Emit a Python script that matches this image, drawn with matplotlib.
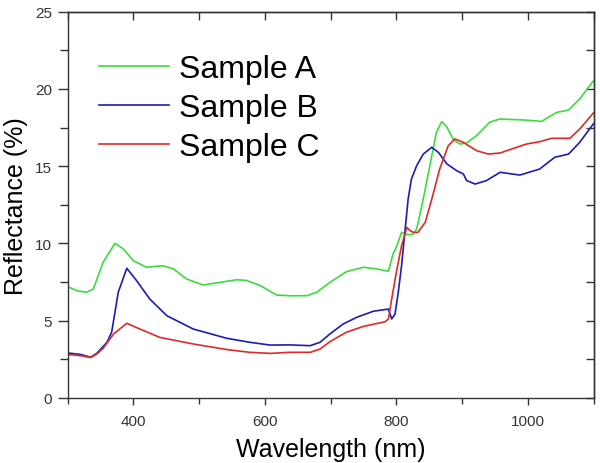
import matplotlib
matplotlib.use('Agg')
import matplotlib.pyplot as plt
from matplotlib.ticker import MultipleLocator, FixedLocator, NullFormatter

plt.rcParams['font.family'] = ['Liberation Sans', 'DejaVu Sans']

# Sample A (green)
wl_a = [300, 314, 329, 339, 354, 372, 385, 400, 420, 445, 461, 481, 506, 532, 557, 572,
        593, 618, 640, 664, 679, 699, 724, 750, 770, 788, 795, 800, 808, 818, 826, 831,
        841, 851, 861, 869, 876, 887, 897, 907, 922, 942, 957, 993, 1021, 1044, 1062, 1079, 1100]
refl_a = [7.2, 6.93, 6.83, 7.04, 8.77, 10.0, 9.63, 8.87, 8.45, 8.55, 8.34, 7.69, 7.3, 7.47, 7.64, 7.6,
          7.26, 6.65, 6.6, 6.61, 6.83, 7.47, 8.16, 8.45, 8.34, 8.19, 9.31, 9.74, 10.71, 10.55, 10.6, 10.93,
          12.87, 15.03, 17.19, 17.88, 17.6, 16.7, 16.43, 16.5, 16.97, 17.84, 18.05, 17.99, 17.9, 18.48, 18.63, 19.35, 20.53]

# Sample B (blue)
wl_b = [300, 320, 335, 345, 360, 367, 377, 390, 405, 425, 451, 491, 542, 577, 608, 638,
        669, 684, 699, 719, 740, 765, 788, 793, 798, 803, 808, 813, 818, 823, 831, 841,
        854, 864, 877, 892, 902, 907, 920, 937, 958, 988, 1018, 1041, 1062, 1079, 1100]
refl_b = [2.9, 2.8, 2.62, 2.9, 3.6, 4.24, 6.83, 8.38, 7.58, 6.39, 5.31, 4.45, 3.85, 3.59, 3.41, 3.42,
          3.37, 3.59, 4.13, 4.77, 5.21, 5.6, 5.74, 5.1, 5.42, 6.83, 8.55, 10.71, 12.87, 14.16, 15.03, 15.78,
          16.22, 15.89, 15.14, 14.7, 14.49, 14.06, 13.84, 14.06, 14.6, 14.42, 14.81, 15.57, 15.78, 16.54, 17.75]

# Sample C (red)
wl_c = [300, 320, 335, 345, 354, 370, 390, 410, 440, 491, 542, 577, 608, 638, 669, 684,
        699, 724, 750, 783, 788, 793, 800, 808, 816, 821, 826, 833, 844, 854, 866, 879,
        889, 902, 922, 940, 958, 968, 998, 1018, 1036, 1064, 1079, 1100]
refl_c = [2.8, 2.72, 2.6, 2.85, 3.2, 4.13, 4.82, 4.45, 3.91, 3.48, 3.12, 2.94, 2.87, 2.94, 2.94, 3.15,
          3.63, 4.24, 4.62, 4.92, 5.1, 6.39, 8.12, 9.84, 11.03, 10.82, 10.71, 10.71, 11.36, 12.87, 14.81, 16.32,
          16.76, 16.54, 16.0, 15.78, 15.85, 16.0, 16.43, 16.58, 16.8, 16.8, 17.4, 18.45]

labels = ['Sample A', 'Sample B', 'Sample C']
colors = ['#3ddc3d', '#1c1cb4', '#dc2a2a']

fig = plt.figure(figsize=(6, 4.64), dpi=100)
ax = fig.add_axes([0.1127, 0.1407, 0.8765, 0.8319])

for wl, r, lab, c in zip([wl_a, wl_b, wl_c], [refl_a, refl_b, refl_c], labels, colors):
    ax.plot(wl, r, color=c, lw=1.2, label=lab)

ax.set_xlim(300, 1100)
ax.set_ylim(0, 25)
ax.xaxis.set_major_locator(FixedLocator([400, 600, 800, 1000]))
ax.xaxis.set_minor_locator(FixedLocator([300, 500, 700, 900, 1100]))
ax.yaxis.set_major_locator(MultipleLocator(5))
ax.yaxis.set_minor_locator(MultipleLocator(2.5))
ax.tick_params(which='major', direction='out', length=5, width=1, colors='#333333',
               labelsize=11, pad=7)
ax.tick_params(axis='y', which='major', length=7, pad=4)
ax.tick_params(axis='y', which='minor', direction='out', length=6, width=1, color='#333333')
ax.tick_params(axis='x', which='minor', direction='out', length=4, width=1, color='#333333')

# inward ticks on top and right
top = ax.secondary_xaxis('top')
top.xaxis.set_major_locator(MultipleLocator(100))
top.xaxis.set_major_formatter(NullFormatter())
top.tick_params(direction='in', length=6, width=1, color='#333333')
right = ax.secondary_yaxis('right')
right.yaxis.set_major_locator(MultipleLocator(2.5))
right.yaxis.set_major_formatter(NullFormatter())
right.tick_params(direction='in', length=6, width=1, color='#333333')

for s in list(ax.spines.values()) + [top.spines['top'], right.spines['right']]:
    s.set_color('#333333')
    s.set_linewidth(1)

ax.set_xlabel('Wavelength (nm)', fontsize=18, labelpad=6)
ax.set_ylabel('Reflectance (%)', fontsize=18, labelpad=5)

ax.legend(loc='upper left', bbox_to_anchor=(0.035, 0.924), frameon=False, fontsize=23,
          handlelength=2.2, handletextpad=0.3, labelspacing=0.29, borderaxespad=0)

fig.savefig('out.png', dpi=100)
